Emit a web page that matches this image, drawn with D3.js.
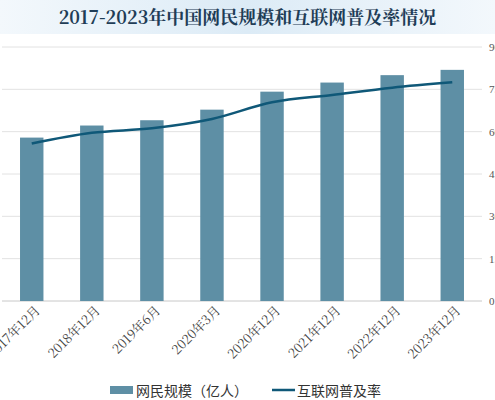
<!DOCTYPE html>
<html><head><meta charset="utf-8">
<script src="https://cdn.jsdelivr.net/npm/d3@7"></script>
<style>body{margin:0;background:#fff}svg{display:block}</style>
</head><body>
<script>
var categories = ["2017年12月","2018年12月","2019年6月","2020年3月","2020年12月","2021年12月","2022年12月","2023年12月"];
var users = [7.72, 8.29, 8.54, 9.04, 9.89, 10.32, 10.67, 10.92];
var rate = [55.8, 59.6, 61.2, 64.5, 70.4, 73.0, 75.6, 77.5];
var rightTicks = [0, 15, 30, 45, 60, 75, 90];

var W = 495, H = 400;
var svg = d3.select("body").append("svg").attr("width", W).attr("height", H);

var grad = svg.append("defs").append("linearGradient").attr("id","tg");
grad.append("stop").attr("offset","0%").attr("stop-color","#f3f8fc");
grad.append("stop").attr("offset","50%").attr("stop-color","#dcebf6");
grad.append("stop").attr("offset","100%").attr("stop-color","#f3f8fc");
svg.append("rect").attr("x",0).attr("y",0).attr("width",W).attr("height",34).attr("fill","url(#tg)");
svg.append("text").attr("x",W/2).attr("y",24).attr("text-anchor","middle")
  .attr("font-family","'Noto Serif CJK SC','Noto Sans CJK SC',serif").attr("font-weight","bold")
  .attr("font-size",18).attr("fill","#1f3d57").text("2017-2023年中国网民规模和互联网普及率情况");

var x0 = 2, x1 = 482, plotTop = 47, base = 301;
var x = d3.scaleBand().domain(categories).range([x0, x1]).paddingInner(0.61).paddingOuter(0.3);
var yL = d3.scaleLinear().domain([0, 12]).range([base, plotTop]);
var yR = d3.scaleLinear().domain([0, 90]).range([base, plotTop]);

svg.append("g").selectAll("line").data(rightTicks).join("line")
  .attr("x1", x0).attr("x2", x1).attr("y1", d => yR(d)).attr("y2", d => yR(d))
  .attr("stroke", d => d === 0 ? "#c8c8c8" : "#e2e2e2").attr("stroke-width", 1);

svg.append("g").selectAll("text").data(rightTicks).join("text")
  .attr("x", 489).attr("y", d => yR(d) + 4).attr("font-size", 11).attr("fill", "#555")
  .attr("font-family","'Liberation Serif',serif").text(d => d);

svg.append("g").selectAll("rect").data(users).join("rect")
  .attr("x", (d, i) => x(categories[i])).attr("width", x.bandwidth())
  .attr("y", d => yL(d)).attr("height", d => base - yL(d)).attr("fill", "#5e8fa5");

var line = d3.line().x((d, i) => x(categories[i]) + x.bandwidth() / 2).y(d => yR(d)).curve(d3.curveMonotoneX);
svg.append("path").datum(rate).attr("d", line).attr("fill", "none").attr("stroke", "#0f5878").attr("stroke-width", 2.5);

svg.append("g").selectAll("text").data(categories).join("text")
  .attr("transform", d => "translate(" + (x(d) + x.bandwidth() / 2 + 6) + "," + (base + 7) + ") rotate(-45)")
  .attr("text-anchor", "end").attr("dy", "0.35em").attr("font-size", 13).attr("fill", "#444")
  .attr("font-family","'Noto Serif CJK SC','Liberation Serif',serif").text(d => d);

var lg = svg.append("g").attr("font-family","'Noto Sans CJK SC',sans-serif").attr("font-size",14).attr("fill","#333");
lg.append("rect").attr("x",110).attr("y",386).attr("width",23).attr("height",8).attr("fill","#5e8fa5");
lg.append("text").attr("x",136).attr("y",396).text("网民规模（亿人）");
lg.append("line").attr("x1",272).attr("x2",295).attr("y1",390).attr("y2",390).attr("stroke","#0f5878").attr("stroke-width",2.5);
lg.append("text").attr("x",297).attr("y",396).text("互联网普及率");
</script>
</body></html>
